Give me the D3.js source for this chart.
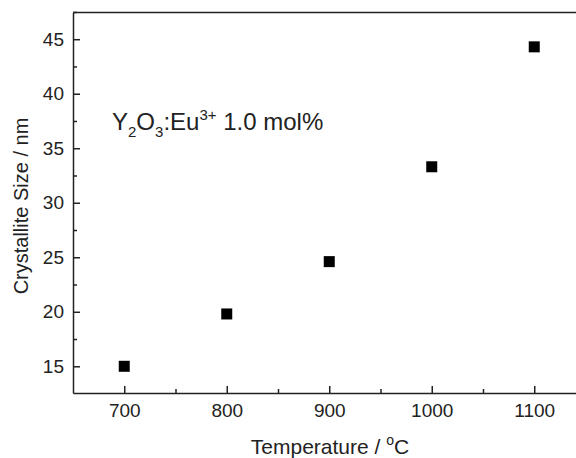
<!DOCTYPE html>
<html>
<head>
<meta charset="utf-8">
<script src="https://cdn.jsdelivr.net/npm/d3@7"></script>
<style>
  body { margin: 0; background: #fff; overflow: hidden; }
  svg { display: block; font-family: "Liberation Sans", Arial, sans-serif; }
  .axis path, .axis line { stroke: #222; stroke-width: 1.5; }
  .axis text { font-size: 19px; fill: #222; }
</style>
</head>
<body>
<script>
// data
var temps = [700, 800, 900, 1000, 1100];
var sizes = [15.0, 19.8, 24.6, 33.3, 44.3];
var xTicks = [700, 800, 900, 1000, 1100];
var yTicks = [15, 20, 25, 30, 35, 40, 45];

var W = 576, H = 458;
var margin = {top: 12.5, left: 73, bottom: 65};

var svg = d3.select('body').append('svg')
    .attr('width', W)
    .attr('height', H);

var xScale = d3.scaleLinear().domain([650, 1150]).range([margin.left, margin.left + 512.5]);
var yScale = d3.scaleLinear().domain([12.55, 47.45]).range([H - margin.bottom, margin.top]);

// minor ticks first
var xMinor = d3.range(750, 1151, 100);
var yMinor = d3.range(17.5, 47.6, 5);

svg.append('g')
   .attr('class', 'axis')
   .attr('transform', 'translate(0,' + yScale.range()[0] + ')')
   .call(d3.axisBottom(xScale).tickValues(xMinor).tickSize(-4).tickFormat(''))
   .select('.domain').remove();

svg.append('g')
   .attr('class', 'axis')
   .attr('transform', 'translate(' + margin.left + ',0)')
   .call(d3.axisLeft(yScale).tickValues(yMinor).tickSize(-4).tickFormat(''))
   .select('.domain').remove();

// main axes, ticks pointing inwards
svg.append('g')
   .attr('class', 'axis')
   .attr('transform', 'translate(0,' + yScale.range()[0] + ')')
   .call(d3.axisBottom(xScale).tickValues(xTicks).tickFormat(d3.format('d'))
     .tickSizeInner(-7).tickSizeOuter(0).tickPadding(11));

svg.append('g')
   .attr('class', 'axis')
   .attr('transform', 'translate(' + margin.left + ',0)')
   .call(d3.axisLeft(yScale).tickValues(yTicks).tickSizeInner(-7).tickSizeOuter(0).tickPadding(9));

// top frame line
svg.append('line')
   .attr('x1', margin.left).attr('x2', xScale(1150))
   .attr('y1', yScale(47.45)).attr('y2', yScale(47.45))
   .attr('stroke', '#222').attr('stroke-width', 1.5);

// points
var sq = 11;
svg.selectAll('rect.pt')
   .data(temps)
   .enter().append('rect')
   .attr('class', 'pt')
   .attr('x', function(d) { return xScale(d) - sq / 2; })
   .attr('y', function(d, i) { return yScale(sizes[i]) - sq / 2; })
   .attr('width', sq)
   .attr('height', sq)
   .attr('fill', '#000');

// annotation
var ann = svg.append('text')
   .attr('x', 112).attr('y', 130)
   .attr('font-size', 24).attr('fill', '#222');
ann.append('tspan').text('Y');
ann.append('tspan').text('2').attr('font-size', 15).attr('dy', 7);
ann.append('tspan').text('O').attr('dy', -7);
ann.append('tspan').text('3').attr('font-size', 15).attr('dy', 7);
ann.append('tspan').text(':Eu').attr('dy', -7);
ann.append('tspan').text('3+').attr('font-size', 15).attr('dy', -10);
ann.append('tspan').text(' 1.0 mol%').attr('dy', 10);

// axis titles
var xt = svg.append('text')
   .attr('x', 330).attr('y', 454)
   .attr('text-anchor', 'middle')
   .attr('font-size', 21).attr('fill', '#222');
xt.append('tspan').text('Temperature / ');
xt.append('tspan').text('o').attr('font-size', 14).attr('dy', -9);
xt.append('tspan').text('C').attr('dy', 9);

svg.append('text')
   .attr('transform', 'translate(28,' + 206 + ') rotate(-90)')
   .attr('text-anchor', 'middle')
   .attr('font-size', 20).attr('fill', '#222')
   .text('Crystallite Size / nm');
</script>
</body>
</html>
